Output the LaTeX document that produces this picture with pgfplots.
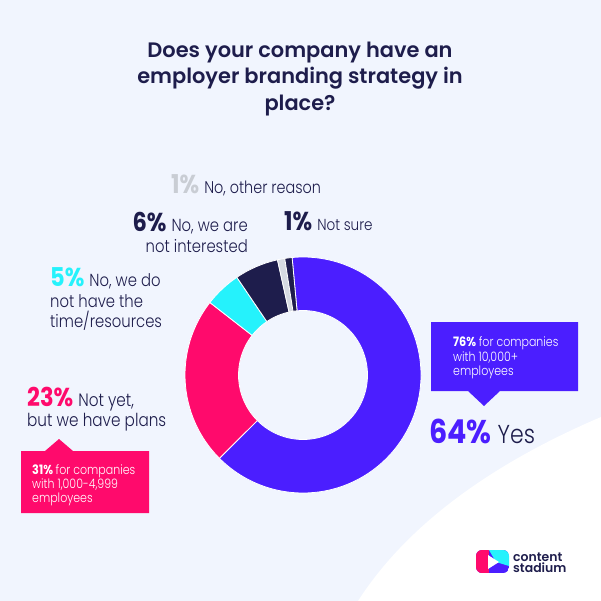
\documentclass[border=0pt]{standalone}
\usepackage{pgfplots}
\pgfplotsset{compat=1.18}
\usepackage{pgfplotstable}
\usepackage{fontspec}
\setmainfont{Poppins}
\newfontfamily\pl{Poppins-Light}[FakeStretch=0.85]
\newfontfamily\psb{Poppins SemiBold}
\newfontfamily\pnum{Poppins}[FakeStretch=0.87]

\definecolor{bg}{HTML}{F1F5FE}
\definecolor{navy}{HTML}{1E1D4C}
\definecolor{cYes}{HTML}{4B1EFF}
\definecolor{cPink}{HTML}{FF0A6C}
\definecolor{cCyan}{HTML}{25F2FC}
\definecolor{cNavy}{HTML}{1E1D4C}
\definecolor{cGray}{HTML}{D6DAE2}
\definecolor{pctGray}{HTML}{C9CDD4}

% share of answers, clockwise from the top
\pgfplotstableread[col sep=comma]{
label,value,color
Yes,64,cYes
Not yet,23,cPink
No time,5,cCyan
Not interested,6,cNavy
Other reason,1,cGray
Not sure,1,cNavy
}\slices

\newcommand{\ttl}[1]{{\psb\fontsize{21}{21}\selectfont #1}}
\newcommand{\pct}[2]{{\pnum\bfseries\fontsize{#1}{#1}\selectfont #2}}
\newcommand{\lt}[2]{{\pl\fontsize{#1}{#1}\selectfont #2}}
\newcommand{\gap}{\hspace{5bp}}

\begin{document}
\begin{tikzpicture}
\begin{axis}[
    scale only axis,
    width=601bp, height=601bp,
    xmin=0, xmax=601, ymin=0, ymax=601,
    y dir=reverse,
    hide axis,
    clip=false,
  ]
  \addplot[draw=none, forget plot] coordinates {(0,0) (601,601)};
  \fill[bg] (axis cs:0,0) rectangle (axis cs:601,601);
  \fill[white] (axis cs:601,417) .. controls (axis cs:500,460) and (axis cs:410,520) .. (axis cs:358,601) -- (axis cs:601,601) -- cycle;

  % title
  \node[anchor=base, text=navy] at (axis cs:300,58) {\ttl{Does your company have an}};
  \node[anchor=base, text=navy] at (axis cs:300,84) {\ttl{employer branding strategy in}};
  \node[anchor=base, text=navy] at (axis cs:300,110) {\ttl{place?}};

  % donut
  \pgfplotsextra{%
    \pgfmathsetmacro\startang{95.3}%
    \pgfplotstablegetrowsof{\slices}%
    \pgfmathtruncatemacro\nlast{\pgfplotsretval-1}%
    \pgfplotsforeachungrouped \i in {0,...,\nlast}{%
      \pgfplotstablegetelem{\i}{value}\of\slices \let\val\pgfplotsretval
      \pgfplotstablegetelem{\i}{color}\of\slices \let\col\pgfplotsretval
      \pgfmathsetmacro\endang{\startang-3.6*\val}%
      \fill[\col, draw=white, line width=0.8pt]
        (axis cs:303,375) ++(\startang:118bp)
        arc[start angle=\startang, end angle=\endang, radius=118bp]
        -- ([shift={(\endang:64.5bp)}]axis cs:303,375)
        arc[start angle=\endang, end angle=\startang, radius=64.5bp] -- cycle;
      \global\let\startang\endang
    }%
  }

  % labels
  \node[anchor=base west, inner sep=0pt] at (axis cs:171,193)
    {\textcolor{pctGray}{\pct{26}{1\%}}\gap\textcolor{navy}{\lt{17}{No, other reason}}};
  \node[anchor=base east, inner sep=0pt] at (axis cs:248,231)
    {\textcolor{navy}{\pct{26}{6\%}}\gap\textcolor{navy}{\lt{17.5}{No, we are}}};
  \node[anchor=base east, inner sep=0pt, text=navy] at (axis cs:248,252) {\lt{17.5}{not interested}};
  \node[anchor=base west, inner sep=0pt] at (axis cs:284,230)
    {\textcolor{navy}{\pct{26}{1\%}}\gap\textcolor{navy}{\lt{16}{Not sure}}};
  \node[anchor=base west, inner sep=0pt] at (axis cs:50,286)
    {\textcolor{cCyan}{\pct{26}{5\%}}\gap\textcolor{navy}{\lt{17.5}{No, we do}}};
  \node[anchor=base west, inner sep=0pt, text=navy] at (axis cs:50,307) {\lt{17.5}{not have the}};
  \node[anchor=base west, inner sep=0pt, text=navy] at (axis cs:50,327) {\lt{17.5}{time/resources}};
  \node[anchor=base west, inner sep=0pt] at (axis cs:27,406)
    {\textcolor{cPink}{\pct{26}{23\%}}\gap\textcolor{navy}{\lt{18}{Not yet,}}};
  \node[anchor=base west, inner sep=0pt, text=navy] at (axis cs:27,426) {\lt{18}{but we have plans}};
  \node[anchor=base west, inner sep=0pt] at (axis cs:429,443)
    {\textcolor{cYes}{\pct{33}{64\%}}\hspace{6bp}\textcolor{navy}{\lt{26}{Yes}}};

  % callouts
  \fill[cYes] (axis cs:431,322) -- (axis cs:578,322) -- (axis cs:578,391) -- (axis cs:500,391)
    -- (axis cs:484,406) -- (axis cs:468,391) -- (axis cs:431,391) -- cycle;
  \node[anchor=base west, inner sep=0pt, text=white] at (axis cs:453,346)
    {\pct{13}{76\%} \lt{13}{for companies}};
  \node[anchor=base west, inner sep=0pt, text=white] at (axis cs:453,361) {\lt{13}{with 10,000+}};
  \node[anchor=base west, inner sep=0pt, text=white] at (axis cs:453,375) {\lt{13}{employees}};

  \fill[cPink] (axis cs:21,451) -- (axis cs:45,451) -- (axis cs:59,439) -- (axis cs:73,451)
    -- (axis cs:149,451) -- (axis cs:149,513) -- (axis cs:21,513) -- cycle;
  \node[anchor=base west, inner sep=0pt, text=white] at (axis cs:32,474)
    {\pct{13}{31\%} \lt{13}{for companies}};
  \node[anchor=base west, inner sep=0pt, text=white] at (axis cs:32,488) {\lt{13}{with 1,000-4,999}};
  \node[anchor=base west, inner sep=0pt, text=white] at (axis cs:32,502) {\lt{13}{employees}};

  % logo
  \begin{scope}
    \clip[rounded corners=6bp] (axis cs:476,550) rectangle (axis cs:509,573);
    \fill[cYes] (axis cs:476,550) rectangle (axis cs:509,573);
    \fill[cPink] (axis cs:476,550) rectangle (axis cs:489,573);
    \fill[cCyan] (axis cs:489,550) -- (axis cs:509,550) -- (axis cs:509,566) -- (axis cs:496,562) -- cycle;
  \end{scope}
  \fill[white] (axis cs:488,555) -- (axis cs:499,562) -- (axis cs:488,569) -- cycle;
  \node[anchor=base west, inner sep=0pt, text=navy] at (axis cs:513,561) {\ttl{\fontsize{12.5}{12.5}\selectfont content}};
  \node[anchor=base west, inner sep=0pt, text=navy] at (axis cs:513,572) {\ttl{\fontsize{12.5}{12.5}\selectfont stadium}};
\end{axis}
\end{tikzpicture}
\end{document}
